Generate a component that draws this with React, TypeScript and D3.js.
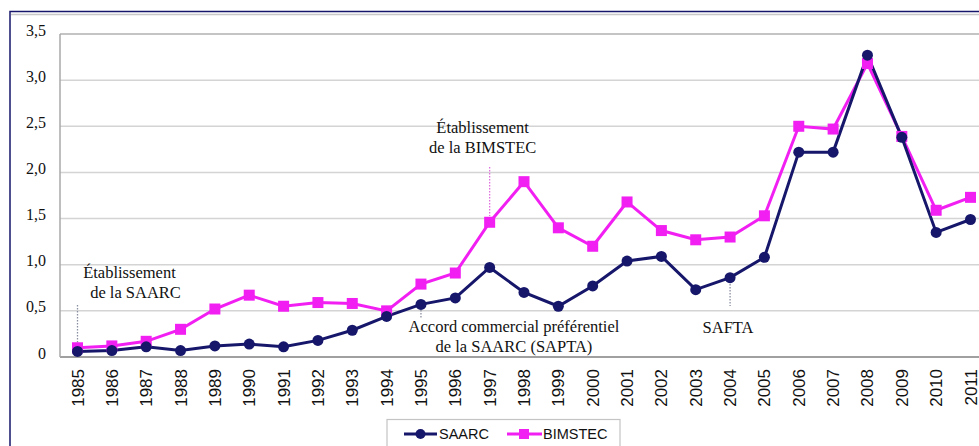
import React from "react";
import * as d3 from "d3";

const years = ["1985","1986","1987","1988","1989","1990","1991","1992","1993","1994","1995","1996","1997","1998","1999","2000","2001","2002","2003","2004","2005","2006","2007","2008","2009","2010","2011"];
const saarc = [0.06,0.07,0.11,0.07,0.12,0.14,0.11,0.18,0.29,0.44,0.57,0.64,0.97,0.70,0.55,0.77,1.04,1.09,0.73,0.86,1.08,2.22,2.22,3.27,2.38,1.35,1.49];
const bimstec = [0.10,0.12,0.17,0.30,0.52,0.67,0.55,0.59,0.58,0.50,0.79,0.91,1.46,1.90,1.40,1.20,1.68,1.37,1.27,1.30,1.53,2.50,2.47,3.18,2.39,1.59,1.73];
const yTicks = [0, 0.5, 1, 1.5, 2, 2.5, 3, 3.5];
const yTickLabels = ["0","0,5","1,0","1,5","2,0","2,5","3,0","3,5"];
const seriesNames = ["SAARC", "BIMSTEC"];

const annotations = [
  { year: "1985", lines: ["Établissement", "de la SAARC"], dx: 52, dx2: 58, y1: 278, lineTop: 305, lineBottom: 350, color: "#8a8fa0" },
  { year: "1997", lines: ["Établissement", "de la BIMSTEC"], dx: -7, dx2: -7, y1: 133, lineTop: 167, lineBottom: 216, color: "#e070e0" },
  { year: "1995", lines: ["Accord commercial préférentiel", "de la SAARC (SAPTA)"], dx: 93, dx2: 93, y1: 332, lineTop: 307, lineBottom: 319, color: "#8a8fa0" },
  { year: "2004", lines: ["SAFTA"], dx: -2, dx2: -2, y1: 333, lineTop: 281, lineBottom: 306, color: "#8a8fa0" },
];

const NAVY = "#16166b";
const MAGENTA = "#f21ff2";
const SERIF = "Liberation Serif";
const SANS = "Liberation Sans";

export default function App() {
  const W = 979, H = 446;
  const x = d3.scalePoint<string>().domain(years).range([77.5, 970.5]);
  const y = d3.scaleLinear().domain([0, 3.5]).range([357, 34]);
  const plotLeft = 60;

  const line = d3.line<number>().x((_, i) => x(years[i])!).y(d => y(d));

  return (
    <svg width={W} height={H} style={{ position: "absolute", left: 0, top: 0, background: "#fff" }}>
      {/* frame */}
      <rect x={10} y={11.5} width={W + 20} height={H} fill="none" stroke={NAVY} strokeWidth={1.5} />
      <line x1={11} x2={W} y1={14.5} y2={14.5} stroke="#c8c8c8" strokeWidth={1.5} />
      {/* gridlines */}
      {yTicks.map((t, i) => (
        <line key={i} x1={plotLeft} x2={W} y1={y(t)} y2={y(t)}
          stroke={t === 0 ? "#a0a0a0" : t === 3.5 ? "#b0b0b0" : "#d4d4d4"} strokeWidth={t === 0 ? 2 : 1.5} />
      ))}
      <line x1={plotLeft} x2={plotLeft} y1={y(3.5)} y2={y(0)} stroke="#a8a8a8" strokeWidth={1.5} />
      {/* y tick labels */}
      {yTicks.map((t, i) => (
        <text key={i} x={46} y={y(t)} dy="0.1em" textAnchor="end" fontFamily={SERIF} fontSize={16} fill="#111">
          {yTickLabels[i]}
        </text>
      ))}
      {/* x tick labels */}
      {years.map(yr => (
        <text key={yr} transform={`translate(${x(yr)! + 6},369) rotate(-90)`} textAnchor="end"
          fontFamily={SANS} fontSize={17} fill="#111">
          {yr}
        </text>
      ))}
      {/* annotation leader lines */}
      {annotations.map((a, i) => (
        <line key={i} x1={x(a.year)!} x2={x(a.year)!} y1={a.lineTop} y2={a.lineBottom}
          stroke={a.color} strokeWidth={1.3} strokeDasharray="1.5,1.5" />
      ))}
      {/* series */}
      <path d={line(bimstec)!} fill="none" stroke={MAGENTA} strokeWidth={3} />
      <path d={line(saarc)!} fill="none" stroke={NAVY} strokeWidth={3} />
      {bimstec.map((v, i) => (
        <rect key={i} x={x(years[i])! - 5.5} y={y(v) - 5.5} width={11} height={11} fill={MAGENTA} />
      ))}
      {saarc.map((v, i) => (
        <circle key={i} cx={x(years[i])!} cy={y(v)} r={5.5} fill={NAVY} />
      ))}
      {/* annotation texts */}
      {annotations.map((a, i) => (
        <text key={i} fontFamily={SERIF} fontSize={16.5} fill="#111" textAnchor="middle">
          {a.lines.map((l, j) => (
            <tspan key={j} x={x(a.year)! + (j === 0 ? a.dx : a.dx2)} y={a.y1 + j * 20}>{l}</tspan>
          ))}
        </text>
      ))}
      {/* legend */}
      <rect x={387} y={419.5} width={233} height={40} fill="#fff" stroke="#c4c4c4" strokeWidth={1.2} />
      <g>
        <line x1={404} x2={437} y1={434} y2={434} stroke={NAVY} strokeWidth={3} />
        <circle cx={420.5} cy={434} r={5} fill={NAVY} />
        <text x={439} y={439} fontFamily={SANS} fontSize={14.5} fill="#111">{seriesNames[0]}</text>
        <line x1={507} x2={542} y1={434} y2={434} stroke={MAGENTA} strokeWidth={3} />
        <rect x={519} y={429} width={10} height={10} fill={MAGENTA} />
        <text x={543} y={439} fontFamily={SANS} fontSize={14.5} fill="#111">{seriesNames[1]}</text>
      </g>
    </svg>
  );
}
